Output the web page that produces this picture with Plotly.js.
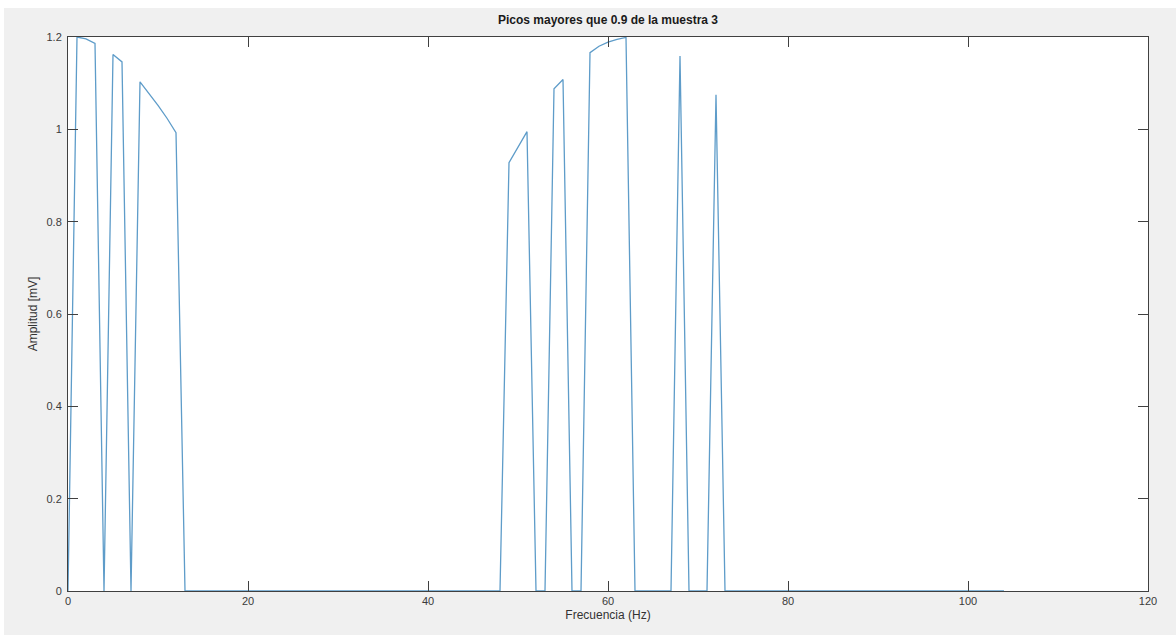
<!DOCTYPE html>
<html>
<head>
<meta charset="utf-8">
<script src="https://cdn.plot.ly/plotly-3.0.1.min.js"></script>
<style>
  html, body { margin: 0; padding: 0; background: #ffffff; }
  #chart { position: absolute; left: 4px; top: 8px; width: 1172px; height: 627px; }
</style>
</head>
<body>
<div id="chart"></div>
<script>
// Amplitude values (mV) sampled at each integer frequency 0..104 Hz
const amplitudes = [
  0, 1.200, 1.196, 1.186, 0, 1.162, 1.146, 0, 1.103, 1.078,
  1.052, 1.024, 0.993, 0, 0, 0, 0, 0, 0, 0,
  0, 0, 0, 0, 0, 0, 0, 0, 0, 0,
  0, 0, 0, 0, 0, 0, 0, 0, 0, 0,
  0, 0, 0, 0, 0, 0, 0, 0, 0, 0.928,
  0.962, 0.995, 0, 0, 1.088, 1.108, 0, 0, 1.166, 1.180,
  1.189, 1.195, 1.199, 0, 0, 0, 0, 0, 1.159, 0,
  0, 0, 1.075, 0, 0, 0, 0, 0, 0, 0,
  0, 0, 0, 0, 0, 0, 0, 0, 0, 0,
  0, 0, 0, 0, 0, 0, 0, 0, 0, 0,
  0, 0, 0, 0, 0
];
const frequencies = amplitudes.map((_, i) => i);

const xTicks = [0, 20, 40, 60, 80, 100, 120];
const yTicks = [0, 0.2, 0.4, 0.6, 0.8, 1, 1.2];
const yTickLabels = ['0', '0.2', '0.4', '0.6', '0.8', '1', '1.2'];

const titleText = 'Picos mayores que 0.9 de la muestra 3';
const xTitle = 'Frecuencia (Hz)';
const yTitle = 'Amplitud [mV]';

const font = 'Liberation Sans, Arial, Helvetica, sans-serif';
const axisColor = '#404040';

const trace = {
  x: frequencies,
  y: amplitudes,
  type: 'scatter',
  mode: 'lines',
  line: { color: '#5e9cc9', width: 1.3 },
  hoverinfo: 'x+y'
};

const axisCommon = {
  showline: true,
  linecolor: axisColor,
  linewidth: 1,
  mirror: 'allticks',
  ticks: 'inside',
  ticklen: 10,
  tickwidth: 1,
  tickcolor: axisColor,
  showgrid: false,
  zeroline: false,
  tickfont: { family: font, size: 11, color: '#3a3a3a' },
  fixedrange: true
};

const layout = {
  width: 1172,
  height: 627,
  paper_bgcolor: '#f0f0f0',
  plot_bgcolor: '#ffffff',
  margin: { l: 64, r: 28, t: 29, b: 44 },
  showlegend: false,
  title: {
    text: '<b>' + titleText + '</b>',
    font: { family: font, size: 12, color: '#1a1a1a' },
    x: 0.5, xref: 'paper', xanchor: 'center',
    y: 1 - 12 / 627, yref: 'container', yanchor: 'middle'
  },
  xaxis: Object.assign({}, axisCommon, {
    range: [0, 120],
    tickvals: xTicks,
    ticktext: xTicks.map(String),
    title: { text: xTitle, font: { family: font, size: 12, color: '#333333' }, standoff: 4 },
    automargin: false
  }),
  yaxis: Object.assign({}, axisCommon, {
    range: [0, 1.2],
    tickvals: yTicks,
    ticktext: yTickLabels,
    ticklabelstandoff: 3,
    title: { text: yTitle, font: { family: font, size: 12, color: '#333333' }, standoff: 6 },
    automargin: false
  })
};

Plotly.newPlot('chart', [trace], layout, { displayModeBar: false, staticPlot: false });
</script>
</body>
</html>
